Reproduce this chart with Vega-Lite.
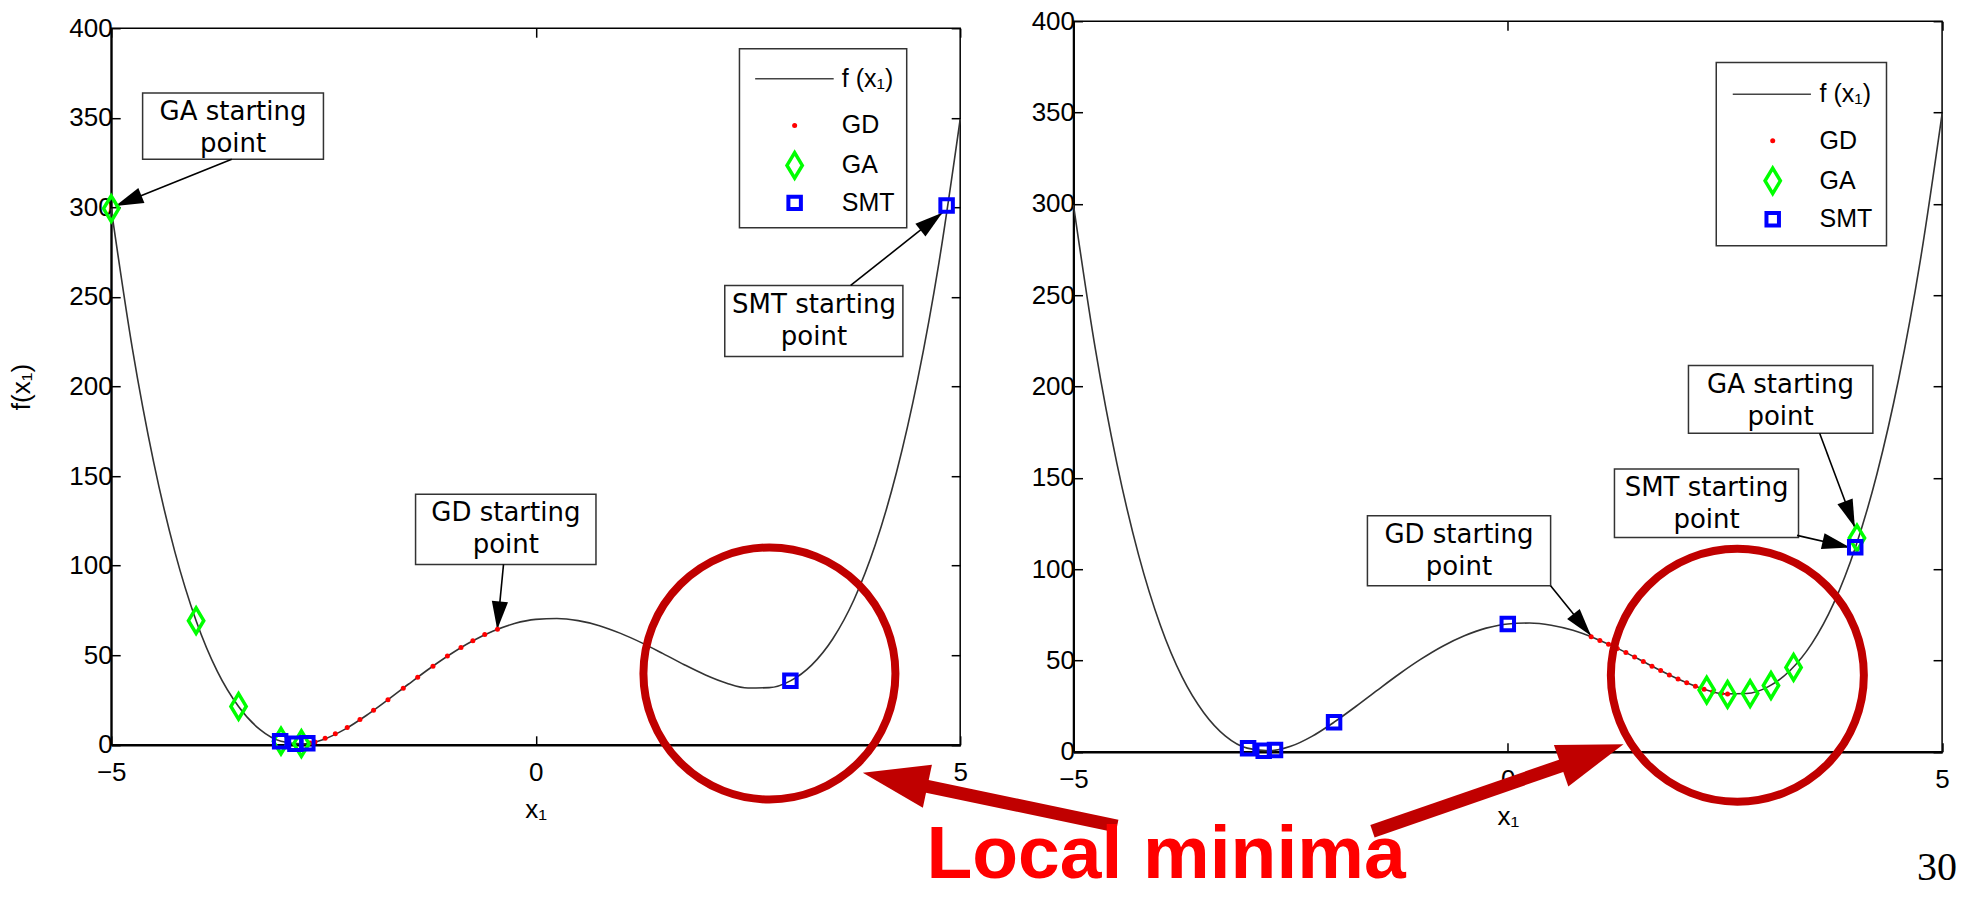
{
"$schema": "https://vega.github.io/schema/vega-lite/v6.json",
"background": "#ffffff",
"padding": {"left": 7.2, "top": 7, "right": 0, "bottom": 0},
"bounds": "flush",
"center": true,
"spacing": 113.3,
"datasets": {
"curve": [{"x":-5,"y":299.3},{"x":-4.75,"y":221.0},{"x":-4.5,"y":157.8},{"x":-4.25,"y":107.7},{"x":-4,"y":69.3},{"x":-3.75,"y":41.0},{"x":-3.5,"y":21.4},{"x":-3.25,"y":8.6},{"x":-3,"y":2.0},{"x":-2.75,"y":0.5},{"x":-2.5,"y":3.0},{"x":-2.25,"y":8.6},{"x":-2,"y":16.2},{"x":-1.75,"y":24.8},{"x":-1.5,"y":33.8},{"x":-1.25,"y":42.6},{"x":-1,"y":50.7},{"x":-0.75,"y":57.8},{"x":-0.5,"y":63.5},{"x":-0.25,"y":67.7},{"x":0,"y":70.0},{"x":0.25,"y":70.5},{"x":0.5,"y":69.3},{"x":0.75,"y":66.5},{"x":1,"y":62.2},{"x":1.25,"y":56.9},{"x":1.5,"y":50.9},{"x":1.75,"y":44.7},{"x":2,"y":39.0},{"x":2.25,"y":34.4},{"x":2.5,"y":31.7},{"x":2.75,"y":31.9},{"x":3,"y":35.7},{"x":3.25,"y":44.5},{"x":3.5,"y":59.2},{"x":3.75,"y":81.1},{"x":4,"y":111.6},{"x":4.25,"y":152.1},{"x":4.5,"y":204.1},{"x":4.75,"y":269.2},{"x":5,"y":349.3}],
"ptsL": [{"m":"GD","x":-2.66,"y":1.0},{"m":"GD","x":-2.60,"y":1.6},{"m":"GD","x":-2.48,"y":3.6},{"m":"GD","x":-2.36,"y":6.2},{"m":"GD","x":-2.22,"y":9.7},{"m":"GD","x":-2.07,"y":14.1},{"m":"GD","x":-1.91,"y":19.3},{"m":"GD","x":-1.74,"y":25.2},{"m":"GD","x":-1.56,"y":31.6},{"m":"GD","x":-1.39,"y":37.7},{"m":"GD","x":-1.21,"y":43.9},{"m":"GD","x":-1.04,"y":49.5},{"m":"GD","x":-0.88,"y":54.3},{"m":"GD","x":-0.74,"y":58.1},{"m":"GD","x":-0.60,"y":61.5},{"m":"GD","x":-0.45,"y":64.5},
  {"m":"GA","x":-5,"y":299.3},{"m":"GA","x":-4.0,"y":69.3},{"m":"GA","x":-3.5,"y":21.4},{"m":"GA","x":-3.0,"y":2.0},{"m":"GA","x":-2.76,"y":0.6},
  {"m":"SMT","x":4.84,"y":301},{"m":"SMT","x":3.0,"y":35.7},{"m":"SMT","x":-3.01,"y":2.0},{"m":"SMT","x":-2.83,"y":0.6},{"m":"SMT","x":-2.69,"y":0.8},
  {"m":"GD","x":3.05,"y":345.7},{"m":"GA","x":3.05,"y":323.4},{"m":"SMT","x":3.05,"y":302.5}],
"ptsR": [{"m":"GD","x":0.96,"y":63.0},{"m":"GD","x":1.06,"y":61.0},{"m":"GD","x":1.16,"y":58.9},{"m":"GD","x":1.26,"y":56.6},{"m":"GD","x":1.36,"y":54.3},{"m":"GD","x":1.46,"y":51.9},{"m":"GD","x":1.56,"y":49.4},{"m":"GD","x":1.66,"y":46.9},{"m":"GD","x":1.76,"y":44.5},{"m":"GD","x":1.86,"y":42.1},{"m":"GD","x":1.96,"y":39.9},{"m":"GD","x":2.06,"y":37.8},{"m":"GD","x":2.16,"y":35.9},{"m":"GD","x":2.26,"y":34.3},{"m":"GD","x":2.36,"y":32.9},{"m":"GD","x":2.46,"y":32.0},{"m":"GD","x":2.53,"y":31.6},
  {"m":"GA","x":4.02,"y":117},{"m":"GA","x":2.29,"y":33.8},{"m":"GA","x":2.53,"y":31.4},{"m":"GA","x":2.79,"y":31.9},{"m":"GA","x":3.03,"y":36.3},{"m":"GA","x":3.29,"y":46.2},
  {"m":"SMT","x":4.0,"y":112},{"m":"SMT","x":0,"y":70},{"m":"SMT","x":-2.0,"y":16.2},{"m":"SMT","x":-2.99,"y":2.0},{"m":"SMT","x":-2.81,"y":0.6},{"m":"SMT","x":-2.68,"y":1.0},
  {"m":"GD","x":3.05,"y":334.5},{"m":"GA","x":3.05,"y":312.6},{"m":"SMT","x":3.05,"y":291.6}],
"boxL": [{"x":-4.63,"x2":-2.50,"y":326.8,"y2":363.8},{"x":2.227,"x2":4.325,"y":216.7,"y2":256.4},{"x":-1.415,"x2":0.710,"y":100.7,"y2":139.8},{"x":2.40,"x2":4.37,"y":288.6,"y2":388.5}],
"boxR": [{"x":2.080,"x2":4.203,"y":174.4,"y2":211.5},{"x":1.228,"x2":3.347,"y":117.3,"y2":154.8},{"x":-1.616,"x2":0.493,"y":90.9,"y2":129.2},{"x":2.40,"x2":4.36,"y":277,"y2":377.4}],
"txtL": [{"x":-3.565,"y":348.8,"t":"GA starting"},{"x":-3.565,"y":331.0,"t":"point"},{"x":3.278,"y":241.3,"t":"SMT starting"},{"x":3.278,"y":223.4,"t":"point"},{"x":-0.352,"y":124.8,"t":"GD starting"},{"x":-0.352,"y":106.9,"t":"point"}],
"txtR": [{"x":3.140,"y":196.6,"t":"GA starting"},{"x":3.140,"y":179.0,"t":"point"},{"x":2.288,"y":140.0,"t":"SMT starting"},{"x":2.288,"y":122.5,"t":"point"},{"x":-0.562,"y":114.4,"t":"GD starting"},{"x":-0.562,"y":96.9,"t":"point"}],
"arrL": [{"id":"GA","x":-3.58,"y":326.8,"x2":-4.95,"y2":300.7},{"id":"SMT","x":3.71,"y":256.4,"x2":4.79,"y2":297},{"id":"GD","x":-0.379,"y":100.7,"x2":-0.453,"y2":64.4}],
"arrR": [{"id":"GA","x":3.59,"y":174.4,"x2":3.996,"y2":122.8},{"id":"SMT","x":3.33,"y":118.5,"x2":3.94,"y2":111.9},{"id":"GD","x":0.493,"y":90.9,"x2":0.958,"y2":63.5}],
"legLineL": [{"x":2.585,"x2":3.51,"y":371.8}],
"legLineR": [{"x":2.59,"x2":3.49,"y":360}],
"legTxtL": [{"x":3.605,"y":371.8,"t":"f (x₁)"},{"x":3.605,"y":345.7,"t":"GD"},{"x":3.605,"y":323.4,"t":"GA"},{"x":3.605,"y":302.5,"t":"SMT"}],
"legTxtR": [{"x":3.59,"y":360,"t":"f (x₁)"},{"x":3.59,"y":334.5,"t":"GD"},{"x":3.59,"y":312.6,"t":"GA"},{"x":3.59,"y":291.6,"t":"SMT"}]
},
"hconcat": [
  {
   "width": 849, "height": 716.6,
   "resolve": {"axis": {"x": "independent", "y": "independent"}},
   "layer": [
    {"data": {"name": "curve"}, "mark": {"type": "line", "interpolate": "monotone", "stroke": "#333333", "strokeWidth": 1.6},
     "encoding": {
      "x": {"field": "x", "type": "quantitative", "scale": {"domain": [-5, 5], "nice": false, "zero": false}, "axis": {"values": [-5, 0, 5], "title": "x₁", "titlePadding": 11, "domain": true, "domainWidth": 2.5, "domainColor": "#000000"}},
      "y": {"field": "y", "type": "quantitative", "scale": {"domain": [0, 400], "nice": false, "zero": false}, "axis": {"values": [0, 50, 100, 150, 200, 250, 300, 350, 400], "title": "f(x₁)", "titlePadding": 34, "domain": true, "domainWidth": 2, "domainColor": "#000000"}}}},
    {"data": {"name": "curve"}, "mark": {"type": "line", "strokeOpacity": 0},
     "encoding": {
      "x": {"field": "x", "type": "quantitative", "scale": {"domain": [-5, 5], "nice": false, "zero": false}, "axis": {"orient": "top", "values": [-5, 0, 5], "labels": false, "title": null}},
      "y": {"field": "y", "type": "quantitative", "scale": {"domain": [0, 400], "nice": false, "zero": false}, "axis": {"orient": "right", "values": [0, 50, 100, 150, 200, 250, 300, 350, 400], "labels": false, "title": null}}}},
    {"data": {"name": "boxL"}, "mark": {"type": "rect", "fill": "#ffffff", "stroke": "#333333", "strokeWidth": 1.5},
     "encoding": {"x": {"field": "x", "type": "quantitative", "scale": {"domain": [-5, 5], "nice": false, "zero": false}, "axis": null}, "x2": {"field": "x2"},
      "y": {"field": "y", "type": "quantitative", "scale": {"domain": [0, 400], "nice": false, "zero": false}, "axis": null}, "y2": {"field": "y2"}}},
    {"data": {"name": "txtL"}, "mark": {"type": "text", "font": "DejaVu Sans", "fontSize": 26, "align": "center", "baseline": "alphabetic", "color": "#000000"},
     "encoding": {"x": {"field": "x", "type": "quantitative", "scale": {"domain": [-5, 5], "nice": false, "zero": false}, "axis": null},
      "y": {"field": "y", "type": "quantitative", "scale": {"domain": [0, 400], "nice": false, "zero": false}, "axis": null}, "text": {"field": "t"}}},
    {"data": {"name": "legLineL"}, "mark": {"type": "rule", "color": "#444444", "strokeWidth": 1.6},
     "encoding": {"x": {"field": "x", "type": "quantitative", "scale": {"domain": [-5, 5], "nice": false, "zero": false}, "axis": null}, "x2": {"field": "x2"},
      "y": {"field": "y", "type": "quantitative", "scale": {"domain": [0, 400], "nice": false, "zero": false}, "axis": null}}},
    {"data": {"name": "legTxtL"}, "mark": {"type": "text", "font": "Liberation Sans", "fontSize": 25, "align": "left", "baseline": "middle", "color": "#000000"},
     "encoding": {"x": {"field": "x", "type": "quantitative", "scale": {"domain": [-5, 5], "nice": false, "zero": false}, "axis": null},
      "y": {"field": "y", "type": "quantitative", "scale": {"domain": [0, 400], "nice": false, "zero": false}, "axis": null}, "text": {"field": "t"}}},
    {"data": {"name": "arrL"}, "mark": {"type": "rule", "color": "#000000", "strokeWidth": 1.6},
     "encoding": {"x": {"field": "x", "type": "quantitative", "scale": {"domain": [-5, 5], "nice": false, "zero": false}, "axis": null}, "x2": {"field": "x2"},
      "y": {"field": "y", "type": "quantitative", "scale": {"domain": [0, 400], "nice": false, "zero": false}, "axis": null}, "y2": {"field": "y2"}}},
    {"data": {"name": "arrL"}, "transform": [{"filter": "datum.id === 'GA'"}], "mark": {"type": "point", "shape": "M0,0L0.29,1L-0.29,1Z", "size": 3136, "angle": 247.9, "filled": true, "color": "#000000", "opacity": 1, "strokeWidth": 0},
     "encoding": {"x": {"field": "x2", "type": "quantitative", "scale": {"domain": [-5, 5], "nice": false, "zero": false}, "axis": null},
      "y": {"field": "y2", "type": "quantitative", "scale": {"domain": [0, 400], "nice": false, "zero": false}, "axis": null}}},
    {"data": {"name": "arrL"}, "transform": [{"filter": "datum.id === 'SMT'"}], "mark": {"type": "point", "shape": "M0,0L0.29,1L-0.29,1Z", "size": 3136, "angle": 51.6, "filled": true, "color": "#000000", "opacity": 1, "strokeWidth": 0},
     "encoding": {"x": {"field": "x2", "type": "quantitative", "scale": {"domain": [-5, 5], "nice": false, "zero": false}, "axis": null},
      "y": {"field": "y2", "type": "quantitative", "scale": {"domain": [0, 400], "nice": false, "zero": false}, "axis": null}}},
    {"data": {"name": "arrL"}, "transform": [{"filter": "datum.id === 'GD'"}], "mark": {"type": "point", "shape": "M0,0L0.29,1L-0.29,1Z", "size": 3136, "angle": 185.5, "filled": true, "color": "#000000", "opacity": 1, "strokeWidth": 0},
     "encoding": {"x": {"field": "x2", "type": "quantitative", "scale": {"domain": [-5, 5], "nice": false, "zero": false}, "axis": null},
      "y": {"field": "y2", "type": "quantitative", "scale": {"domain": [0, 400], "nice": false, "zero": false}, "axis": null}}},
    {"data": {"name": "ptsL"}, "transform": [{"filter": "datum.m === 'GD'"}], "mark": {"type": "point", "shape": "circle", "filled": true, "color": "#ff0000", "size": 25, "opacity": 1},
     "encoding": {"x": {"field": "x", "type": "quantitative", "scale": {"domain": [-5, 5], "nice": false, "zero": false}, "axis": null},
      "y": {"field": "y", "type": "quantitative", "scale": {"domain": [0, 400], "nice": false, "zero": false}, "axis": null}}},
    {"data": {"name": "ptsL"}, "transform": [{"filter": "datum.m === 'GA'"}], "mark": {"type": "point", "shape": "M0,-1L0.6,0L0,1L-0.6,0Z", "filled": false, "color": "#00ff00", "strokeWidth": 3.5, "size": 650, "opacity": 1},
     "encoding": {"x": {"field": "x", "type": "quantitative", "scale": {"domain": [-5, 5], "nice": false, "zero": false}, "axis": null},
      "y": {"field": "y", "type": "quantitative", "scale": {"domain": [0, 400], "nice": false, "zero": false}, "axis": null}}},
    {"data": {"name": "ptsL"}, "transform": [{"filter": "datum.m === 'SMT'"}], "mark": {"type": "point", "shape": "square", "filled": false, "color": "#0000ff", "strokeWidth": 4, "size": 156, "opacity": 1},
     "encoding": {"x": {"field": "x", "type": "quantitative", "scale": {"domain": [-5, 5], "nice": false, "zero": false}, "axis": null},
      "y": {"field": "y", "type": "quantitative", "scale": {"domain": [0, 400], "nice": false, "zero": false}, "axis": null}}},
    {"data": {"values": [{"x": 2.753, "y": 39.8}]}, "mark": {"type": "point", "shape": "circle", "filled": false, "color": "#c00000", "strokeWidth": 8, "size": 63504, "opacity": 1},
     "encoding": {"x": {"field": "x", "type": "quantitative", "scale": {"domain": [-5, 5], "nice": false, "zero": false}, "axis": null},
      "y": {"field": "y", "type": "quantitative", "scale": {"domain": [0, 400], "nice": false, "zero": false}, "axis": null}}},
    {"data": {"values": [{"x": 6.848, "y": -45.4, "x2": 4.429, "y2": -21.4}]}, "mark": {"type": "rule", "color": "#c00000", "strokeWidth": 13, "strokeCap": "butt"},
     "encoding": {"x": {"field": "x", "type": "quantitative", "scale": {"domain": [-5, 5], "nice": false, "zero": false}, "axis": null}, "x2": {"field": "x2"},
      "y": {"field": "y", "type": "quantitative", "scale": {"domain": [0, 400], "nice": false, "zero": false}, "axis": null}, "y2": {"field": "y2"}}},
    {"data": {"values": [{"x": 3.853, "y": -15.6}]}, "mark": {"type": "point", "shape": "M0,0L0.333,1L-0.333,1Z", "size": 17424, "angle": 281.9, "filled": true, "color": "#c00000", "opacity": 1, "strokeWidth": 0},
     "encoding": {"x": {"field": "x", "type": "quantitative", "scale": {"domain": [-5, 5], "nice": false, "zero": false}, "axis": null},
      "y": {"field": "y", "type": "quantitative", "scale": {"domain": [0, 400], "nice": false, "zero": false}, "axis": null}}},
    {"data": {"values": [{"x": 7.424, "y": -74.6, "t": "Local minima"}]}, "mark": {"type": "text", "font": "Liberation Sans", "fontSize": 75, "fontWeight": "bold", "align": "center", "baseline": "alphabetic", "color": "#ff0000"},
     "encoding": {"x": {"field": "x", "type": "quantitative", "scale": {"domain": [-5, 5], "nice": false, "zero": false}, "axis": null},
      "y": {"field": "y", "type": "quantitative", "scale": {"domain": [0, 400], "nice": false, "zero": false}, "axis": null}, "text": {"field": "t"}}}
   ]
  },
{
 "width": 868.6, "height": 730.6,
 "resolve": {"axis": {"x": "independent", "y": "independent"}},
 "layer": [
  {"data": {"name": "curve"}, "mark": {"type": "line", "interpolate": "monotone", "stroke": "#333333", "strokeWidth": 1.6},
   "encoding": {
    "x": {"field": "x", "type": "quantitative", "scale": {"domain": [-5, 5], "nice": false, "zero": false}, "axis": {"values": [-5, 0, 5], "title": "x₁", "titlePadding": 11, "domain": true, "domainWidth": 2.5, "domainColor": "#000000"}},
    "y": {"field": "y", "type": "quantitative", "scale": {"domain": [0, 400], "nice": false, "zero": false}, "axis": {"values": [0, 50, 100, 150, 200, 250, 300, 350, 400], "title": null, "domain": true, "domainWidth": 2, "domainColor": "#000000"}}}},
  {"data": {"name": "curve"}, "mark": {"type": "line", "strokeOpacity": 0},
   "encoding": {
    "x": {"field": "x", "type": "quantitative", "scale": {"domain": [-5, 5], "nice": false, "zero": false}, "axis": {"orient": "top", "values": [-5, 0, 5], "labels": false, "title": null}},
    "y": {"field": "y", "type": "quantitative", "scale": {"domain": [0, 400], "nice": false, "zero": false}, "axis": {"orient": "right", "values": [0, 50, 100, 150, 200, 250, 300, 350, 400], "labels": false, "title": null}}}},
  {"data": {"name": "boxR"}, "mark": {"type": "rect", "fill": "#ffffff", "stroke": "#333333", "strokeWidth": 1.5},
   "encoding": {"x": {"field": "x", "type": "quantitative", "scale": {"domain": [-5, 5], "nice": false, "zero": false}, "axis": null}, "x2": {"field": "x2"},
    "y": {"field": "y", "type": "quantitative", "scale": {"domain": [0, 400], "nice": false, "zero": false}, "axis": null}, "y2": {"field": "y2"}}},
  {"data": {"name": "txtR"}, "mark": {"type": "text", "font": "DejaVu Sans", "fontSize": 26, "align": "center", "baseline": "alphabetic", "color": "#000000"},
   "encoding": {"x": {"field": "x", "type": "quantitative", "scale": {"domain": [-5, 5], "nice": false, "zero": false}, "axis": null},
    "y": {"field": "y", "type": "quantitative", "scale": {"domain": [0, 400], "nice": false, "zero": false}, "axis": null}, "text": {"field": "t"}}},
  {"data": {"name": "legLineR"}, "mark": {"type": "rule", "color": "#444444", "strokeWidth": 1.6},
   "encoding": {"x": {"field": "x", "type": "quantitative", "scale": {"domain": [-5, 5], "nice": false, "zero": false}, "axis": null}, "x2": {"field": "x2"},
    "y": {"field": "y", "type": "quantitative", "scale": {"domain": [0, 400], "nice": false, "zero": false}, "axis": null}}},
  {"data": {"name": "legTxtR"}, "mark": {"type": "text", "font": "Liberation Sans", "fontSize": 25, "align": "left", "baseline": "middle", "color": "#000000"},
   "encoding": {"x": {"field": "x", "type": "quantitative", "scale": {"domain": [-5, 5], "nice": false, "zero": false}, "axis": null},
    "y": {"field": "y", "type": "quantitative", "scale": {"domain": [0, 400], "nice": false, "zero": false}, "axis": null}, "text": {"field": "t"}}},
  {"data": {"name": "arrR"}, "mark": {"type": "rule", "color": "#000000", "strokeWidth": 1.6},
   "encoding": {"x": {"field": "x", "type": "quantitative", "scale": {"domain": [-5, 5], "nice": false, "zero": false}, "axis": null}, "x2": {"field": "x2"},
    "y": {"field": "y", "type": "quantitative", "scale": {"domain": [0, 400], "nice": false, "zero": false}, "axis": null}, "y2": {"field": "y2"}}},
  {"data": {"name": "arrR"}, "transform": [{"filter": "datum.id === 'GA'"}], "mark": {"type": "point", "shape": "M0,0L0.29,1L-0.29,1Z", "size": 3136, "angle": 159.4, "filled": true, "color": "#000000", "opacity": 1, "strokeWidth": 0},
   "encoding": {"x": {"field": "x2", "type": "quantitative", "scale": {"domain": [-5, 5], "nice": false, "zero": false}, "axis": null},
    "y": {"field": "y2", "type": "quantitative", "scale": {"domain": [0, 400], "nice": false, "zero": false}, "axis": null}}},
  {"data": {"name": "arrR"}, "transform": [{"filter": "datum.id === 'SMT'"}], "mark": {"type": "point", "shape": "M0,0L0.29,1L-0.29,1Z", "size": 3136, "angle": 102.9, "filled": true, "color": "#000000", "opacity": 1, "strokeWidth": 0},
   "encoding": {"x": {"field": "x2", "type": "quantitative", "scale": {"domain": [-5, 5], "nice": false, "zero": false}, "axis": null},
    "y": {"field": "y2", "type": "quantitative", "scale": {"domain": [0, 400], "nice": false, "zero": false}, "axis": null}}},
  {"data": {"name": "arrR"}, "transform": [{"filter": "datum.id === 'GD'"}], "mark": {"type": "point", "shape": "M0,0L0.29,1L-0.29,1Z", "size": 3136, "angle": 141.1, "filled": true, "color": "#000000", "opacity": 1, "strokeWidth": 0},
   "encoding": {"x": {"field": "x2", "type": "quantitative", "scale": {"domain": [-5, 5], "nice": false, "zero": false}, "axis": null},
    "y": {"field": "y2", "type": "quantitative", "scale": {"domain": [0, 400], "nice": false, "zero": false}, "axis": null}}},
  {"data": {"name": "ptsR"}, "transform": [{"filter": "datum.m === 'GD'"}], "mark": {"type": "point", "shape": "circle", "filled": true, "color": "#ff0000", "size": 25, "opacity": 1},
   "encoding": {"x": {"field": "x", "type": "quantitative", "scale": {"domain": [-5, 5], "nice": false, "zero": false}, "axis": null},
    "y": {"field": "y", "type": "quantitative", "scale": {"domain": [0, 400], "nice": false, "zero": false}, "axis": null}}},
  {"data": {"name": "ptsR"}, "transform": [{"filter": "datum.m === 'GA'"}], "mark": {"type": "point", "shape": "M0,-1L0.6,0L0,1L-0.6,0Z", "filled": false, "color": "#00ff00", "strokeWidth": 3.5, "size": 650, "opacity": 1},
   "encoding": {"x": {"field": "x", "type": "quantitative", "scale": {"domain": [-5, 5], "nice": false, "zero": false}, "axis": null},
    "y": {"field": "y", "type": "quantitative", "scale": {"domain": [0, 400], "nice": false, "zero": false}, "axis": null}}},
  {"data": {"name": "ptsR"}, "transform": [{"filter": "datum.m === 'SMT'"}], "mark": {"type": "point", "shape": "square", "filled": false, "color": "#0000ff", "strokeWidth": 4, "size": 156, "opacity": 1},
   "encoding": {"x": {"field": "x", "type": "quantitative", "scale": {"domain": [-5, 5], "nice": false, "zero": false}, "axis": null},
    "y": {"field": "y", "type": "quantitative", "scale": {"domain": [0, 400], "nice": false, "zero": false}, "axis": null}}},
  {"data": {"values": [{"x": 2.643, "y": 41.9}]}, "mark": {"type": "point", "shape": "circle", "filled": false, "color": "#c00000", "strokeWidth": 8, "size": 64009, "opacity": 1},
   "encoding": {"x": {"field": "x", "type": "quantitative", "scale": {"domain": [-5, 5], "nice": false, "zero": false}, "axis": null},
    "y": {"field": "y", "type": "quantitative", "scale": {"domain": [0, 400], "nice": false, "zero": false}, "axis": null}}},
  {"data": {"values": [{"x": -1.558, "y": -43.5, "x2": 0.789, "y2": -4.8}]}, "mark": {"type": "rule", "color": "#c00000", "strokeWidth": 13, "strokeCap": "butt"},
   "encoding": {"x": {"field": "x", "type": "quantitative", "scale": {"domain": [-5, 5], "nice": false, "zero": false}, "axis": null}, "x2": {"field": "x2"},
    "y": {"field": "y", "type": "quantitative", "scale": {"domain": [0, 400], "nice": false, "zero": false}, "axis": null}, "y2": {"field": "y2"}}},
  {"data": {"values": [{"x": 1.332, "y": 4.2}]}, "mark": {"type": "point", "shape": "M0,0L0.333,1L-0.333,1Z", "size": 17424, "angle": 70.9, "filled": true, "color": "#c00000", "opacity": 1, "strokeWidth": 0},
   "encoding": {"x": {"field": "x", "type": "quantitative", "scale": {"domain": [-5, 5], "nice": false, "zero": false}, "axis": null},
    "y": {"field": "y", "type": "quantitative", "scale": {"domain": [0, 400], "nice": false, "zero": false}, "axis": null}}},
  {"data": {"values": [{"x": 4.941, "y": -70.1, "t": "30"}]}, "mark": {"type": "text", "font": "Liberation Serif", "fontSize": 40, "align": "center", "baseline": "alphabetic", "color": "#000000"},
   "encoding": {"x": {"field": "x", "type": "quantitative", "scale": {"domain": [-5, 5], "nice": false, "zero": false}, "axis": null},
    "y": {"field": "y", "type": "quantitative", "scale": {"domain": [0, 400], "nice": false, "zero": false}, "axis": null}, "text": {"field": "t"}}}
 ]
}
],
"config": {
 "view": {"stroke": "#000000", "strokeWidth": 1.5},
 "axis": {"grid": false, "domain": false, "labelFont": "Liberation Sans", "labelFontSize": 26, "labelColor": "#000000", "labelFlush": false, "labelOverlap": false, "tickColor": "#000000", "tickWidth": 1.5, "tickSize": -9, "titleFont": "Liberation Sans", "titleFontSize": 26, "titleFontWeight": "normal", "titleColor": "#000000"},
 "axisX": {"labelPadding": 24},
 "axisY": {"labelPadding": 8}
}
}
